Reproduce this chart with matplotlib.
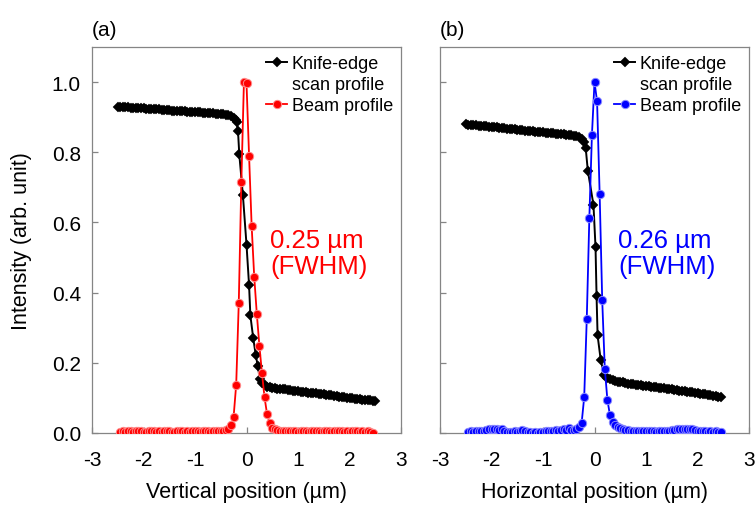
import numpy as np
import matplotlib
matplotlib.use('Agg')
import matplotlib.pyplot as plt
from matplotlib.lines import Line2D

plt.rcParams['font.family'] = ['Liberation Sans', 'DejaVu Sans']
plt.rcParams['axes.unicode_minus'] = False

# ---- scan grids (um) ----
knife_left_x = np.round(np.arange(-2.5, -0.349, 0.05), 3)
knife_right_x = np.round(np.arange(0.4, 2.501, 0.05), 3)
beam_x = np.round(np.arange(-2.45, 2.451, 0.05), 3)

# ---- (a) vertical scan ----
knife_a_left = [0.930, 0.929, 0.929, 0.928, 0.928, 0.927, 0.927, 0.926, 0.926, 0.925,
                0.925, 0.924, 0.924, 0.923, 0.923, 0.922, 0.922, 0.921, 0.921, 0.920,
                0.920, 0.919, 0.919, 0.918, 0.918, 0.917, 0.917, 0.916, 0.916, 0.915,
                0.915, 0.914, 0.914, 0.913, 0.913, 0.912, 0.912, 0.911, 0.910, 0.910,
                0.909, 0.908, 0.907, 0.905]
knife_a_edge_x = [-0.30, -0.25, -0.21, -0.19, -0.165, -0.14, -0.07, 0.0, 0.05, 0.075,
                  0.13, 0.18, 0.22, 0.26, 0.30, 0.35]
knife_a_edge = [0.902, 0.897, 0.891, 0.885, 0.860, 0.794, 0.678, 0.537, 0.421, 0.335,
                0.271, 0.222, 0.190, 0.154, 0.142, 0.136]
knife_a_right = [0.132, 0.130, 0.128,
                 0.127, 0.126, 0.126, 0.125, 0.124, 0.123, 0.122, 0.121, 0.120, 0.119,
                 0.118, 0.117, 0.116, 0.115, 0.114, 0.113, 0.113, 0.112, 0.111, 0.110,
                 0.109, 0.108, 0.107, 0.106, 0.105, 0.104, 0.103, 0.102, 0.101, 0.100,
                 0.099, 0.098, 0.097, 0.096, 0.095, 0.094, 0.093, 0.093, 0.092, 0.091]
beam_a = [0.004, 0.005, 0.004, 0.006, 0.005, 0.004, 0.005, 0.006, 0.005, 0.004,
          0.004, 0.005, 0.006, 0.005, 0.004, 0.005, 0.004, 0.005, 0.006, 0.005,
          0.004, 0.004, 0.005, 0.006, 0.005, 0.004, 0.005, 0.004, 0.005, 0.006,
          0.005, 0.004, 0.005, 0.006, 0.005, 0.004, 0.005, 0.005, 0.006, 0.005,
          0.006, 0.008,
          0.011, 0.022, 0.047, 0.138, 0.371, 0.716, 1.000, 0.997, 0.790, 0.590,
          0.445, 0.340, 0.249, 0.171, 0.102, 0.053, 0.029, 0.015, 0.010,
          0.008, 0.007, 0.006, 0.006, 0.005, 0.005, 0.006, 0.005, 0.004, 0.005,
          0.006, 0.005, 0.004, 0.005, 0.005, 0.006, 0.005, 0.004, 0.005, 0.006,
          0.005, 0.004, 0.005, 0.005, 0.006, 0.005, 0.004, 0.005, 0.004, 0.005,
          0.006, 0.005, 0.004, 0.005, 0.004, 0.005, 0.004, 0.001]

# ---- (b) horizontal scan ----
knife_b_left = [0.880, 0.879, 0.879, 0.878, 0.877, 0.876, 0.876, 0.875, 0.874, 0.873,
                0.872, 0.871, 0.871, 0.870, 0.869, 0.868, 0.867, 0.867, 0.866, 0.865,
                0.864, 0.863, 0.863, 0.862, 0.861, 0.860, 0.860, 0.859, 0.858, 0.857,
                0.857, 0.856, 0.855, 0.855, 0.854, 0.853, 0.853, 0.852, 0.851, 0.850,
                0.849, 0.848, 0.847, 0.845]
knife_b_edge_x = [-0.30, -0.25, -0.21, -0.17, -0.13, -0.02, 0.02, 0.04, 0.06, 0.12,
                  0.19, 0.25, 0.30, 0.35]
knife_b_edge = [0.843, 0.838, 0.828, 0.811, 0.748, 0.650, 0.529, 0.390, 0.278, 0.209,
                0.164, 0.157, 0.153, 0.150]
knife_b_right = [0.148, 0.146, 0.145, 0.144, 0.142, 0.141, 0.140, 0.139, 0.138, 0.137,
                 0.136, 0.135, 0.134, 0.133, 0.132, 0.131, 0.130, 0.129, 0.128, 0.127,
                 0.126, 0.125, 0.124, 0.123, 0.122, 0.121, 0.120, 0.119, 0.118, 0.117,
                 0.116, 0.115, 0.113, 0.112, 0.111, 0.110, 0.108, 0.107, 0.106, 0.105,
                 0.104, 0.102]
beam_b = [0.004, 0.005, 0.004, 0.005, 0.006, 0.005, 0.007, 0.008, 0.010, 0.011,
          0.012, 0.011, 0.009, 0.010, 0.007, 0.004, 0.002, 0.003, 0.006, 0.004,
          0.007, 0.008, 0.006, 0.004, 0.002, 0.001, 0.002, 0.001, 0.003, 0.004,
          0.005, 0.006, 0.007, 0.006, 0.008, 0.007, 0.009, 0.012, 0.008, 0.013,
          0.009, 0.008,
          0.011, 0.018, 0.028, 0.102, 0.326, 0.614, 0.849, 1.000, 0.945, 0.681,
          0.378, 0.183, 0.095, 0.051, 0.032, 0.022, 0.016, 0.013, 0.010,
          0.009, 0.008, 0.007, 0.006, 0.006, 0.005, 0.005, 0.006, 0.005, 0.005,
          0.006, 0.005, 0.004, 0.005, 0.005, 0.006, 0.006, 0.007, 0.008, 0.009,
          0.010, 0.011, 0.012, 0.011, 0.012, 0.011, 0.010, 0.009, 0.007, 0.006,
          0.005, 0.005, 0.004, 0.005, 0.004, 0.005, 0.004, 0.002]

knife_a_x = np.concatenate([knife_left_x, knife_a_edge_x, knife_right_x])
knife_a_y = np.concatenate([knife_a_left, knife_a_edge, knife_a_right])
knife_b_x = np.concatenate([knife_left_x, knife_b_edge_x, knife_right_x[:len(knife_b_right)]])
knife_b_y = np.concatenate([knife_b_left, knife_b_edge, knife_b_right])

panels = [
    ('(a)', 'Vertical position (\u00b5m)', knife_a_x, knife_a_y, beam_a, '#ff0000', '#ff8a8a', '0.25 \u00b5m\n(FWHM)'),
    ('(b)', 'Horizontal position (\u00b5m)', knife_b_x, knife_b_y, beam_b, '#0000ff', '#8a8aff', '0.26 \u00b5m\n(FWHM)'),
]

fig = plt.figure(figsize=(7.55, 5.06), dpi=100)
lefts = [92 / 755, 440 / 755]
spine_col = '#858585'

for i, (tag, xlab, kx, ky, beam, col, edge, fwhm) in enumerate(panels):
    ax = fig.add_axes([lefts[i], 72 / 506, 309 / 755, 386 / 506])

    h_knife, = ax.plot(kx, ky, color='black', lw=1.4, marker='D', ms=4.8,
                       mfc='black', mec='black', mew=0.3, zorder=3)
    h_beam, = ax.plot(beam_x, beam, color=col, lw=1.3, marker='o', ms=6.0,
                      mfc=col, mec=edge, mew=0.7, zorder=4)

    ax.set_xlim(-3, 3)
    ax.set_ylim(0, 1.1)
    ax.set_xticks(np.arange(-3, 4, 1))
    ax.set_yticks(np.arange(0, 1.01, 0.2))
    ax.yaxis.set_major_formatter(matplotlib.ticker.FormatStrFormatter('%.1f'))
    ax.tick_params(direction='in', length=4, width=0.9, color=spine_col,
                   labelsize=15, top=False, right=False)
    ax.tick_params(axis='x', pad=12)
    ax.tick_params(axis='y', pad=8)
    if i == 1:
        ax.tick_params(axis='y', labelleft=False)
    for s in ax.spines.values():
        s.set_color(spine_col)
        s.set_linewidth(0.9)

    ax.set_xlabel(xlab, fontsize=15.5)
    ax.xaxis.set_label_coords(0.5, -0.125)

    ax.text(0.0, 1.02, tag, transform=ax.transAxes, fontsize=15,
            ha='left', va='bottom')
    ax.text(0.455, 0.513, fwhm, color=col, fontsize=18.5, ha='left',
            va='center', linespacing=1.15)

    blank = Line2D([], [], linestyle='none')
    ax.legend([h_knife, blank, h_beam], ['Knife-edge', 'scan profile', 'Beam profile'],
              loc='upper right', frameon=False, fontsize=13, handlelength=1.15,
              handletextpad=0.25, labelspacing=0.22, borderaxespad=0.1,
              borderpad=0.35)

fig.text(22 / 755, 1 - 241 / 506, 'Intensity (arb. unit)', rotation=90,
         ha='center', va='center', fontsize=15.5)

fig.savefig('out.png', dpi=100)
